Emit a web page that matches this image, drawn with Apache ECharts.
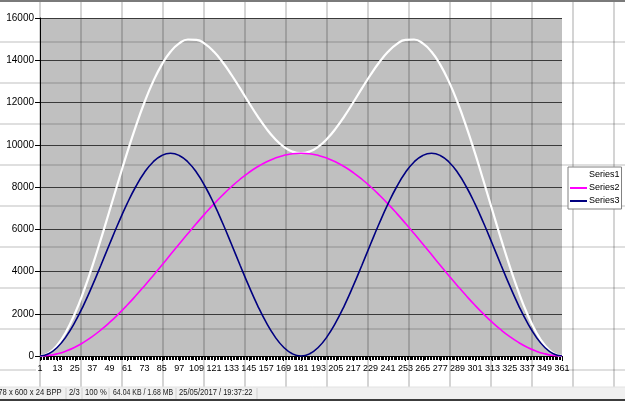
<!DOCTYPE html>
<html>
<head>
<meta charset="utf-8">
<script src="https://cdn.jsdelivr.net/npm/echarts@6/dist/echarts.min.js"></script>
<style>
  html, body { margin: 0; padding: 0; background: #fff; }
  #chart { width: 625px; height: 401px; }
</style>
</head>
<body>
<div id="chart"></div>
<script>
// x positions (categories 1..361, sampled every 6)
const xs = [1, 7, 13, 19, 25, 31, 37, 43, 49, 55, 61, 67, 73, 79, 85, 91, 97, 103, 109, 115,
  121, 127, 133, 139, 145, 151, 157, 163, 169, 175, 181, 187, 193, 199, 205, 211, 217, 223, 229, 235,
  241, 247, 253, 259, 265, 271, 277, 283, 289, 295, 301, 307, 313, 319, 325, 331, 337, 343, 349, 355, 361];

const series1 = [0, 131, 520, 1152, 2003, 3043, 4234, 5531, 6890, 8262, 9600, 10860, 12000, 12987, 13793,
  14400, 14797, 14983, 14966, 14764, 14400, 13904, 13314, 12665, 12000, 11357, 10773, 10282, 9910, 9679, 9600,
  9679, 9910, 10282, 10773, 11357, 12000, 12665, 13314, 13904, 14400, 14764, 14966, 14983, 14797, 14400,
  13793, 12987, 12000, 10860, 9600, 8262, 6890, 5531, 4234, 3043, 2003, 1152, 520, 131, 0];

const series2 = [0, 26, 105, 235, 415, 643, 917, 1233, 1588, 1979, 2400, 2848, 3317, 3802, 4298,
  4800, 5302, 5798, 6283, 6752, 7200, 7621, 8012, 8367, 8683, 8957, 9185, 9365, 9495, 9574, 9600,
  9574, 9495, 9365, 9185, 8957, 8683, 8367, 8012, 7621, 7200, 6752, 6283, 5798, 5302, 4800,
  4298, 3802, 3317, 2848, 2400, 1979, 1588, 1233, 917, 643, 415, 235, 105, 26, 0];

const series3 = [0, 105, 415, 917, 1588, 2400, 3317, 4298, 5302, 6283, 7200, 8012, 8683, 9185, 9495,
  9600, 9495, 9185, 8683, 8012, 7200, 6283, 5302, 4298, 3317, 2400, 1588, 917, 415, 105, 0,
  105, 415, 917, 1588, 2400, 3317, 4298, 5302, 6283, 7200, 8012, 8683, 9185, 9495, 9600,
  9495, 9185, 8683, 8012, 7200, 6283, 5302, 4298, 3317, 2400, 1588, 917, 415, 105, 0];

const seriesNames = ['Series1', 'Series2', 'Series3'];

const statusTexts = [
  { text: '978 x 600 x 24 BPP', x: -6, sx: 0.85 },
  { text: '2/3', x: 69, sx: 0.85 },
  { text: '100 %', x: 85, sx: 0.85 },
  { text: '64.04 KB / 1.68 MB', x: 113, sx: 0.77 },
  { text: '25/05/2017 / 19:37:22', x: 179, sx: 0.84 }
];
const statusSeps = [66, 82, 109, 176, 257];

const font = '"Liberation Sans", Arial, sans-serif';

// spreadsheet cell lines behind / over the chart
const sheet = [];
for (let i = 0; i < 15; i++) {
  const x = 40 + i * 41;
  sheet.push({ type: 'line', z: 1, silent: true,
    shape: { x1: x, y1: 2, x2: x, y2: 387 },
    style: { stroke: 'rgba(0,0,0,0.17)', lineWidth: 2 } });
}
for (let j = 0; j < 8; j++) {
  const y = 42 + j * 41;
  sheet.push({ type: 'line', z: 1, silent: true,
    shape: { x1: 0, y1: y, x2: 625, y2: y },
    style: { stroke: 'rgba(0,0,0,0.17)', lineWidth: 1.5 } });
}
sheet.push({ type: 'line', z: 1, silent: true, shape: { x1: 0, y1: 370, x2: 36, y2: 370 },
  style: { stroke: 'rgba(0,0,0,0.17)', lineWidth: 1.5 } });
sheet.push({ type: 'line', z: 1, silent: true, shape: { x1: 563, y1: 370, x2: 625, y2: 370 },
  style: { stroke: 'rgba(0,0,0,0.17)', lineWidth: 1.5 } });

// top bar and status bar
sheet.push({ type: 'rect', z: 10, shape: { x: 0, y: 0, width: 625, height: 2 }, style: { fill: '#7a7a7a' } });
sheet.push({ type: 'rect', z: 10, shape: { x: 0, y: 387, width: 625, height: 13 }, style: { fill: '#f0f0f0' } });
sheet.push({ type: 'line', z: 10, shape: { x1: 0, y1: 387, x2: 625, y2: 387 }, style: { stroke: '#e2e2e2', lineWidth: 1 } });
sheet.push({ type: 'rect', z: 10, shape: { x: 0, y: 399, width: 625, height: 2 }, style: { fill: '#3c3c3c' } });
statusSeps.forEach(x => {
  sheet.push({ type: 'line', z: 11, shape: { x1: x, y1: 388, x2: x, y2: 399 }, style: { stroke: '#d0d0d0', lineWidth: 1 } });
});
statusTexts.forEach(t => {
  sheet.push({ type: 'text', z: 11, x: t.x, y: 393, scaleX: t.sx,
    style: { text: t.text, fill: '#1a1a1a', font: '9px ' + font, textVerticalAlign: 'middle' } });
});

const chart = echarts.init(document.getElementById('chart'), null, { renderer: 'canvas' });
const pairs = arr => xs.map((x, i) => [x, arr[i]]);

chart.setOption({
  animation: false,
  backgroundColor: '#fff',
  textStyle: { fontFamily: font },
  graphic: sheet,
  grid: {
    left: 40, top: 18, right: 63, bottom: 45,
    show: true, backgroundColor: '#c0c0c0', borderWidth: 0
  },
  legend: {
    data: seriesNames,
    orient: 'vertical',
    left: 568, top: 167,
    width: 50,
    backgroundColor: '#fff',
    borderColor: '#808080', borderWidth: 1,
    padding: [3, 2, 3, 2],
    itemGap: 3,
    itemWidth: 17, itemHeight: 2,
    icon: 'rect',
    textStyle: { fontSize: 9, color: '#000', lineHeight: 10, padding: [0, 0, 0, -3] }
  },
  xAxis: {
    type: 'value',
    min: 1, max: 361, interval: 12,
    z: 3,
    axisLine: { lineStyle: { color: '#000', width: 1 } },
    axisTick: { inside: false, length: 5, lineStyle: { color: '#000' } },
    minorTick: { show: true, splitNumber: 12, length: 4, lineStyle: { color: '#000' } },
    axisLabel: { color: '#000', fontSize: 9, margin: 8,
      showMinLabel: true, showMaxLabel: true, hideOverlap: false, formatter: v => String(v) },
    splitLine: { show: false }
  },
  yAxis: {
    type: 'value',
    min: 0, max: 16000, interval: 2000,
    z: 3,
    axisLine: { show: true, lineStyle: { color: '#000', width: 1 } },
    axisTick: { show: true, length: 5, lineStyle: { color: '#000' } },
    axisLabel: { color: '#000', fontSize: 10, margin: 6, formatter: v => String(v) },
    splitLine: { show: true, lineStyle: { color: '#3a3a3a', width: 1 } }
  },
  series: [
    { name: seriesNames[0], type: 'line', data: pairs(series1), smooth: true, showSymbol: false,
      z: 5, color: '#ffffff', lineStyle: { color: '#ffffff', width: 2.2 } },
    { name: seriesNames[1], type: 'line', data: pairs(series2), smooth: true, showSymbol: false,
      z: 5, color: '#ff00ff', lineStyle: { color: '#ff00ff', width: 1.6 } },
    { name: seriesNames[2], type: 'line', data: pairs(series3), smooth: true, showSymbol: false,
      z: 5, color: '#000080', lineStyle: { color: '#000080', width: 1.6 } }
  ]
});
</script>
</body>
</html>
